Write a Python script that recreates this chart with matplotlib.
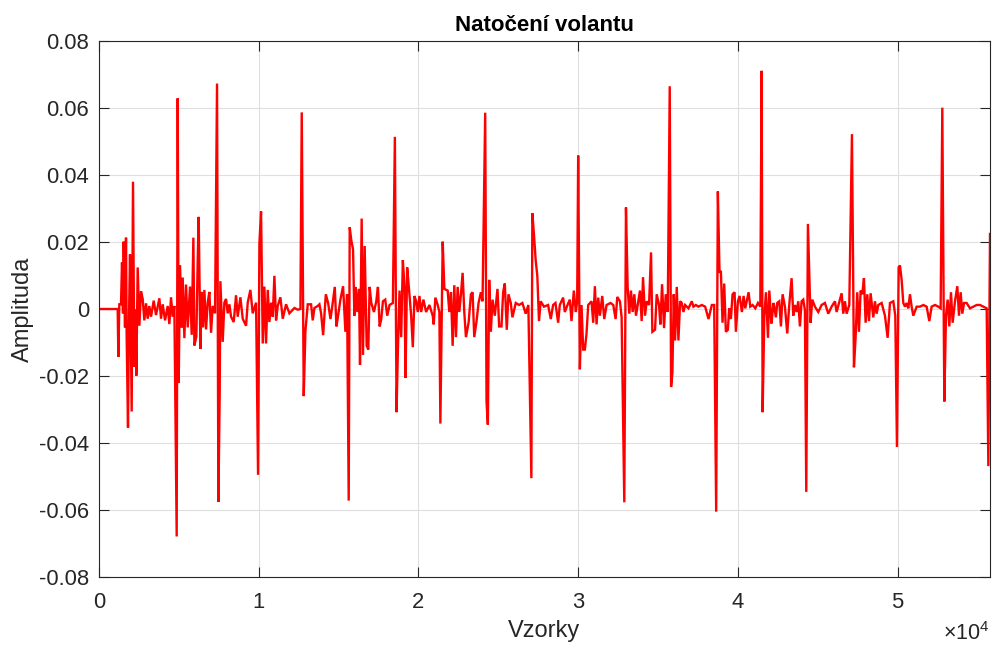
import matplotlib
matplotlib.use("Agg")
import matplotlib.pyplot as plt

# ---- data ----
samples = [
    0, 1169, 1211, 1273, 1378, 1441, 1503, 1545, 1628, 1691, 1733, 1816, 1879, 1942, 2046, 2129,
    2213, 2276, 2338, 2422, 2526, 2630, 2735, 2839, 2944, 3048, 3152, 3257, 3424, 3570, 3779, 3883,
    3988, 4134, 4301, 4405, 4509, 4614, 4718, 4864, 4927, 4990, 5073, 5178, 5240, 5345, 5449, 5554,
    5699, 5804, 5908, 5971, 6096, 6180, 6242, 6347, 6430, 6514, 6597, 6701, 6806, 6910, 7015, 7119,
    7265, 7390, 7474, 7557, 7599, 7745, 7850, 7954, 8058, 8163, 8267, 8434, 8580, 8685, 8852, 8998,
    9207, 9311, 9478, 9624, 9833, 9958, 10042, 10146, 10251, 10355, 10459, 10564, 10668, 10773, 10877, 10981,
    11086, 11190, 11357, 11503, 11712, 11921, 12234, 12443, 12610, 12693, 12818, 12923, 13069, 13278, 13382, 13486,
    13695, 13800, 13904,
    14033, 14200, 14345, 14491, 14615, 14761, 14865, 14969, 15114, 15281, 15426, 15530, 15634, 15696, 15800, 15904,
    15988, 16071, 16175, 16279, 16341, 16445, 16528, 16632, 16757, 16861, 16944, 17048, 17214, 17360, 17464, 17568,
    17672, 17776, 17921, 18046, 18191, 18399, 18524, 18628, 18711, 18815, 18919, 19023, 19127, 19189, 19293, 19397,
    19543, 19647, 19751, 19854, 19958, 20062, 20166, 20312, 20478, 20686, 20894, 20956, 21060, 21206, 21310, 21372,
    21518, 21622, 21830, 21933, 22037, 22141, 22245, 22349, 22453, 22557, 22661, 22765, 22869, 22973, 23139, 23285,
    23389, 23493, 23638, 23763, 23909, 24012, 24179, 24262, 24345, 24428, 24532, 24636, 24782, 24948, 25052, 25198,
    25302, 25406, 25530, 25634, 25780, 25884, 26092, 26299, 26507, 26715, 26881, 27069, 27131, 27235, 27339, 27443,
    27547, 27651, 27859,
    28117, 28285, 28431, 28577, 28745, 28849, 29059, 29163, 29331, 29477, 29582, 29728, 29854, 29937, 30000, 30105,
    30209, 30314, 30418, 30523, 30628, 30837, 30941, 31046, 31151, 31255, 31360, 31506, 31632, 31778, 32029, 32197,
    32343, 32448, 32615, 32720, 32887, 32992, 33096, 33201, 33305, 33410, 33515, 33619, 33766, 33870, 33975, 34059,
    34184, 34289, 34435, 34561, 34644, 34812, 34916, 35063, 35146, 35251, 35377, 35481, 35607, 35732, 35816, 35900,
    35983, 36067, 36172, 36276, 36381, 36485, 36590, 36695, 36904, 37113, 37218, 37364, 37531, 37741, 37950, 38159,
    38368, 38515, 38640, 38745, 38849, 38933, 39038, 39142, 39247, 39372, 39456, 39561, 39665, 39791, 39874, 40000,
    40105, 40251, 40356, 40460, 40669, 40774, 40921, 41088, 41255, 41402, 41485, 41548, 41653, 41757, 41883, 41967,
    42092, 42238,
    42109, 42213, 42380, 42463, 42589, 42693, 42797, 42944, 43090, 43215, 43361, 43466, 43570, 43674, 43779, 43883,
    43987, 44092, 44196, 44280, 44384, 44467, 44551, 44656, 44823, 45031, 45240, 45449, 45658, 45866, 46075, 46180,
    46493, 46597, 46701, 46806, 46973, 47140, 47265, 47370, 47474, 47578, 47683, 47787, 47891, 47996, 48100, 48205,
    48309, 48476, 48580, 48685, 48789, 48998, 49207, 49374, 49520, 49729, 49854, 49958, 50063, 50146, 50251, 50355,
    50459, 50564, 50668, 50772, 50877, 50981, 51190, 51399, 51608, 51816, 51983, 52129, 52338, 52547, 52693, 52797,
    52923, 53027, 53132, 53236, 53340, 53445, 53591, 53737, 53841, 53946, 54051, 54155, 54322, 54531, 54740, 54949,
    55157, 55366, 55575, 55679, 55783,
]

amplitude = [
    0.0, 0.0, -0.0143, 0.0014, 0.0014, 0.0139, -0.0013, 0.0201, -0.0055, 0.0213, -0.0087, -0.0354, -0.0023, 0.0163, -0.0306, 0.0380,
    -0.0173, -0.0002, -0.0199, 0.0124, -0.0050, 0.0053, 0.0030, -0.0034, 0.0017, -0.0029, 0.0009, -0.0023, 0.0025, -0.0018, 0.0032, -0.0029,
    0.0014, -0.0034, 0.0009, -0.0045, 0.0035, -0.0023, 0.0009, -0.0679, 0.0629, -0.0221, 0.0131, -0.0055, 0.0094, -0.0087, 0.0073, -0.0055,
    0.0067, -0.0077, 0.0213, -0.0109, -0.0082, 0.0147, 0.0275, -0.0119, 0.0051, -0.0055, 0.0057, -0.0061, 0.0019, 0.0051, -0.0071, 0.0009,
    -0.0013, 0.0673, -0.0576, -0.0247, 0.0083, -0.0098, 0.0019, 0.0030, -0.0013, 0.0014, -0.0023, -0.0039, 0.0041, -0.0023, 0.0035, -0.0029,
    -0.0050, 0.0019, 0.0057, -0.0013, 0.0019, -0.0495, 0.0195, 0.0291, -0.0103, 0.0067, -0.0103, 0.0057, -0.0039, 0.0019, -0.0023, 0.0099,
    -0.0034, 0.0009, 0.0035, -0.0029, 0.0014, -0.0013, 0.0003, -0.0002, 0.0, 0.0587, -0.0260, -0.0066, 0.0014, 0.0014, -0.0034, 0.0003,
    0.0009, 0.0014, -0.0013,
    -0.0078, 0.0044, 0.0018, -0.0030, 0.0012, 0.0066, -0.0052, -0.0020, 0.0028, 0.0068, -0.0068, 0.0044, -0.0572, 0.0244, 0.0204, 0.0178,
    -0.0020, 0.0066, -0.0009, 0.0060, -0.0166, 0.0270, -0.0137, 0.0188, -0.0110, -0.0121, 0.0066, 0.0018, -0.0009, 0.0023, 0.0066, -0.0052,
    -0.0030, 0.0023, 0.0028, -0.0020, 0.0012, 0.0018, 0.0514, -0.0308, -0.0126, 0.0055, -0.0084, 0.0146, 0.0066, -0.0206, 0.0124, 0.0066,
    -0.0020, -0.0114, 0.0039, 0.0023, -0.0009, 0.0039, -0.0009, 0.0028, -0.0009, 0.0012, -0.0020, -0.0046, 0.0034, 0.0012, -0.0009, -0.0342,
    0.0201, 0.0060, 0.0055, -0.0009, 0.0050, -0.0110, 0.0071, -0.0084, 0.0066, -0.0009, 0.0044, 0.0108, -0.0009, -0.0084, -0.0041, 0.0044,
    0.0050, -0.0084, -0.0036, 0.0018, 0.0050, 0.0023, 0.0586, -0.0276, -0.0345, 0.0087, -0.0068, 0.0028, -0.0020, 0.0060, -0.0052, -0.0052,
    0.0050, 0.0076, -0.0062, 0.0044, 0.0018, -0.0025, 0.0018, 0.0012, 0.0018, -0.0014, 0.0012, -0.0505, 0.0286, 0.0220, 0.0146, 0.0098,
    -0.0036, 0.0023, 0.0007,
    0.0012, -0.0030, 0.0012, 0.0018, -0.0041, 0.0012, 0.0034, -0.0009, 0.0012, 0.0028, -0.0036, 0.0055, -0.0009, 0.0023, 0.0458, -0.0180,
    0.0012, -0.0121, -0.0121, -0.0073, 0.0012, 0.0023, -0.0041, 0.0068, -0.0046, 0.0034, -0.0020, 0.0039, -0.0030, 0.0012, 0.0018, 0.0012,
    -0.0030, 0.0036, 0.0023, -0.0025, -0.0577, 0.0303, 0.0066, -0.0014, 0.0055, -0.0009, 0.0044, -0.0020, 0.0023, 0.0055, -0.0036, 0.0095,
    -0.0020, 0.0023, 0.0012, 0.0169, -0.0068, -0.0062, 0.0044, 0.0012, -0.0046, 0.0074, -0.0057, 0.0044, -0.0009, 0.0665, -0.0233, -0.0190,
    0.0044, -0.0094, 0.0066, -0.0094, 0.0023, 0.0018, -0.0009, 0.0012, 0.0002, 0.0023, 0.0007, 0.0012, 0.0007, 0.0012, 0.0007, -0.0030,
    0.0012, 0.0012, -0.0605, 0.0351, 0.0108, 0.0114, -0.0041, 0.0076, -0.0068, -0.0062, 0.0002, -0.0030, 0.0044, 0.0050, -0.0068, 0.0023,
    0.0039, -0.0009, 0.0039, 0.0002, 0.0050, 0.0007, 0.0012, 0.0002, 0.0018, 0.0007, 0.0711, -0.0308, -0.0020, 0.0050, -0.0086, 0.0055,
    -0.0041, 0.0018,
    -0.0041, 0.0012, -0.0025, 0.0018, 0.0023, -0.0052, 0.0044, 0.0007, -0.0073, 0.0012, 0.0092, -0.0020, 0.0012, -0.0009, 0.0023, -0.0052,
    0.0023, 0.0028, -0.0004, -0.0546, 0.0254, 0.0108, -0.0041, 0.0028, 0.0007, -0.0009, 0.0012, 0.0018, -0.0014, 0.0007, 0.0023, -0.0009,
    0.0047, -0.0014, 0.0023, -0.0014, 0.0012, 0.0522, -0.0174, -0.0084, 0.0050, -0.0068, 0.0055, 0.0044, 0.0092, -0.0041, 0.0044, -0.0036,
    0.0047, -0.0025, 0.0023, -0.0014, 0.0012, 0.0018, -0.0020, -0.0086, 0.0018, 0.0023, -0.0020, -0.0412, 0.0124, 0.0130, 0.0087, 0.0018,
    0.0007, 0.0018, 0.0002, 0.0044, 0.0007, -0.0020, 0.0007, 0.0007, 0.0012, 0.0007, -0.0036, 0.0007, 0.0012, 0.0007, 0.0002, 0.0601,
    -0.0276, -0.0020, 0.0028, -0.0052, 0.0050, -0.0041, 0.0023, 0.0068, -0.0020, 0.0050, -0.0014, 0.0018, 0.0018, 0.0002, 0.0007, 0.0012,
    0.0012, 0.0007, 0.0002, -0.0469, 0.0224,
]

x_ticks = [0, 10000, 20000, 30000, 40000, 50000]
x_tick_labels = ["0", "1", "2", "3", "4", "5"]
y_ticks = [-0.08, -0.06, -0.04, -0.02, 0.0, 0.02, 0.04, 0.06, 0.08]
y_tick_labels = ["-0.08", "-0.06", "-0.04", "-0.02", "0", "0.02", "0.04", "0.06", "0.08"]
title_text = "Natočení volantu"
x_label = "Vzorky"
y_label = "Amplituda"
x_multiplier = r"$\times10^{4}$"

# ---- style ----
plt.rcParams["font.family"] = ["Liberation Sans", "DejaVu Sans"]
plt.rcParams["mathtext.fontset"] = "custom"
plt.rcParams["mathtext.rm"] = "Liberation Sans"
plt.rcParams["mathtext.it"] = "Liberation Sans:italic"
plt.rcParams["mathtext.bf"] = "Liberation Sans:bold"

ink = "#262626"

fig = plt.figure(figsize=(9.93, 6.48), dpi=100)
ax = fig.add_axes([99 / 993, (648 - 577) / 648, (990 - 99) / 993, (577 - 41) / 648])

pairs = sorted(zip(samples, amplitude))
xs = [p[0] for p in pairs]
ys = [p[1] for p in pairs]
ax.plot(xs, ys, color="#ff0000", linewidth=1.7, solid_joinstyle="miter")

ax.set_xlim(0, 55783)
ax.set_ylim(-0.08, 0.08)
ax.set_xticks(x_ticks)
ax.set_xticklabels(x_tick_labels)
ax.set_yticks(y_ticks)
ax.set_yticklabels(y_tick_labels)

ax.grid(True, color="#dfdfdf", linewidth=0.8)
ax.set_axisbelow(True)
for s in ax.spines.values():
    s.set_color(ink)
    s.set_linewidth(0.8)
ax.tick_params(direction="in", length=7, width=0.8, colors=ink, labelsize=15.8,
               top=True, right=True)
ax.tick_params(axis="y", pad=7)
ax.tick_params(axis="x", pad=11)
for lbl in ax.get_xticklabels() + ax.get_yticklabels():
    lbl.set_color(ink)

ax.set_title(title_text, fontsize=16, fontweight="bold", color="black", pad=7)
ax.set_xlabel(x_label, fontsize=17, color=ink, labelpad=5)
ax.set_ylabel(y_label, fontsize=17, color=ink, labelpad=4)
ax.text(1.0, -0.085, x_multiplier, transform=ax.transAxes, ha="right", va="top",
        fontsize=15.5, color=ink)

fig.savefig("out.png", dpi=100)
